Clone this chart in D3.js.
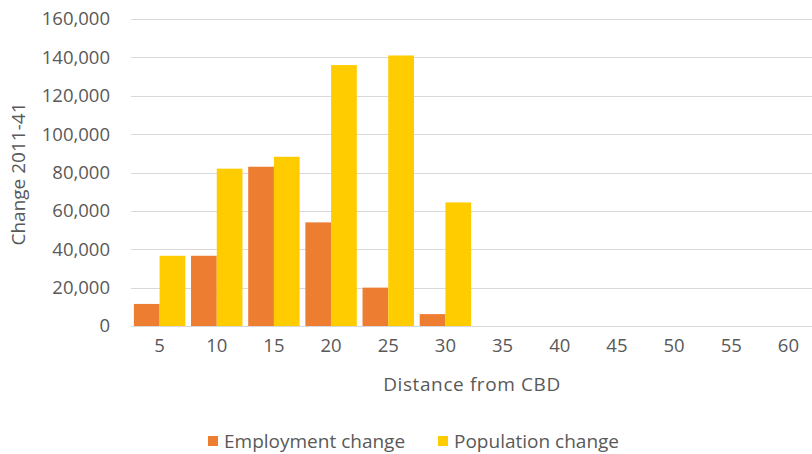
<!DOCTYPE html>
<html>
<head>
<meta charset="utf-8">
<script src="https://cdn.jsdelivr.net/npm/d3@7"></script>
<style>
    body { margin: 0; background: #ffffff; }
    svg { display: block; }
</style>
</head>
<body>
<div id="chart"></div>
<script>
const distances = ['5', '10', '15', '20', '25', '30', '35', '40', '45', '50', '55', '60'];
const employmentChange = [11500, 36600, 83000, 54000, 20000, 6200, 0, 0, 0, 0, 0, 0];
const populationChange = [36600, 82000, 88200, 136000, 141000, 64400, 0, 0, 0, 0, 0, 0];
const seriesNames = ['Employment change', 'Population change'];
const seriesColors = ['#ED7D31', '#FFCC00'];
const yTicks = [0, 20000, 40000, 60000, 80000, 100000, 120000, 140000, 160000];

function main() {
    const svgWidth = 812;
    const svgHeight = 454;
    const margin = {top: 19, right: -5, bottom: 128, left: 131};
    const width = svgWidth - margin.left - margin.right;
    const height = svgHeight - margin.top - margin.bottom;
    const textColor = '#595959';
    const font = '"Open Sans", "DejaVu Sans", sans-serif';

    const svg = d3.select('#chart').append('svg')
        .attr('width', svgWidth)
        .attr('height', svgHeight);

    const g = svg.append('g')
        .attr('transform', `translate(${margin.left},${margin.top})`);

    const xScale = d3.scaleBand()
        .domain(distances)
        .range([0, width])
        .paddingInner(0.1)
        .paddingOuter(0.05);

    const xInner = d3.scaleBand()
        .domain(seriesNames)
        .range([0, xScale.bandwidth()]);

    const yScale = d3.scaleLinear()
        .domain([0, 160000])
        .range([height, 0]);

    // gridlines
    g.append('g')
        .selectAll('line')
        .data(yTicks)
        .enter()
        .append('line')
        .attr('x1', 0)
        .attr('x2', width)
        .attr('y1', d => Math.round(yScale(d)) + 0.5)
        .attr('y2', d => Math.round(yScale(d)) + 0.5)
        .attr('stroke', '#d9d9d9')
        .attr('stroke-width', 1);

    // y axis labels
    const yAxis = g.append('g')
        .call(d3.axisLeft(yScale).tickValues(yTicks).tickFormat(d3.format(',')).tickSize(0).tickPadding(21));
    yAxis.select('.domain').remove();
    yAxis.selectAll('text')
        .style('font-family', font)
        .style('font-size', '18.5px')
        .style('fill', textColor);

    // bars
    const rows = distances.map((d, i) => ({
        distance: d,
        values: [employmentChange[i], populationChange[i]]
    }));

    const groups = g.selectAll('.bar-group')
        .data(rows)
        .enter()
        .append('g')
        .attr('class', 'bar-group')
        .attr('transform', d => `translate(${xScale(d.distance)},0)`);

    groups.selectAll('rect')
        .data(d => d.values.map((v, j) => ({series: seriesNames[j], value: v, color: seriesColors[j]})))
        .enter()
        .append('rect')
        .attr('x', d => xInner(d.series))
        .attr('width', xInner.bandwidth())
        .attr('y', d => yScale(d.value))
        .attr('height', d => height - yScale(d.value))
        .attr('fill', d => d.color);

    // x axis
    const xAxis = g.append('g')
        .attr('transform', `translate(0,${height})`)
        .call(d3.axisBottom(xScale).tickSize(0).tickPadding(13));
    xAxis.select('.domain').remove();
    xAxis.selectAll('text')
        .style('font-family', font)
        .style('font-size', '18.5px')
        .style('fill', textColor);

    // axis titles
    svg.append('text')
        .attr('x', 472)
        .attr('y', 391)
        .attr('text-anchor', 'middle')
        .style('font-family', font)
        .style('font-size', '19px')
        .style('letter-spacing', '0.6px')
        .style('fill', textColor)
        .text('Distance from CBD');

    svg.append('text')
        .attr('transform', 'rotate(-90)')
        .attr('x', -174)
        .attr('y', 25)
        .attr('text-anchor', 'middle')
        .style('font-family', font)
        .style('font-size', '19px')
        .style('fill', textColor)
        .text('Change 2011-41');

    // legend
    const legendX = [208, 438];
    const legend = svg.append('g');
    seriesNames.forEach((name, i) => {
        legend.append('rect')
            .attr('x', legendX[i])
            .attr('y', 436)
            .attr('width', 10)
            .attr('height', 10)
            .attr('fill', seriesColors[i]);
        legend.append('text')
            .attr('x', legendX[i] + 16)
            .attr('y', 448)
            .style('font-family', font)
            .style('font-size', '19px')
            .style('fill', textColor)
            .text(name);
    });
}

main();
</script>
</body>
</html>
